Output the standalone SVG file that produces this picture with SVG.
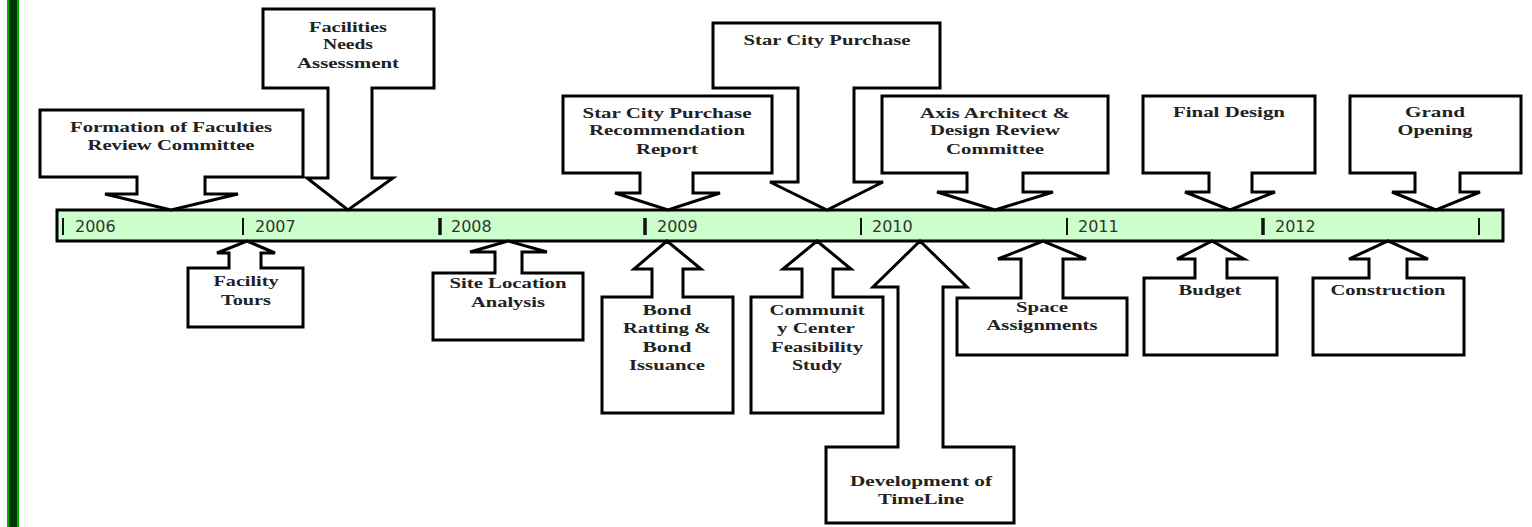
<svg xmlns="http://www.w3.org/2000/svg" width="1532" height="527" viewBox="0 0 1532 527">
<style>
.c{fill:#fff;stroke:#000;stroke-width:3;stroke-linejoin:miter}
.t{font-family:"Liberation Serif","Times New Roman",serif;font-weight:bold;font-size:14px;fill:#222;text-anchor:middle}
.y{font-family:"DejaVu Sans",Verdana,sans-serif;font-size:16px;fill:#333}
.tk{stroke:#111;stroke-width:2}
.tkb{stroke:#111;stroke-width:3.5}
</style>
<rect width="1532" height="527" fill="#fff"/>
<g id="sidebar">
<rect x="7" y="0" width="12" height="527" fill="#00b000"/>
<rect x="9" y="0" width="8" height="527" fill="#003800"/>
</g>
<g id="timeline">
<rect x="57" y="210" width="1446" height="31" fill="#ccffcc" stroke="#000" stroke-width="3"/>
<line class="tk" x1="63" y1="218" x2="63" y2="235"/><text class="y" x="75" y="232">2006</text>
<line class="tk" x1="243" y1="218" x2="243" y2="235"/><text class="y" x="255" y="232">2007</text>
<line class="tkb" x1="440" y1="218" x2="440" y2="235"/><text class="y" x="451" y="232">2008</text>
<line class="tkb" x1="645" y1="218" x2="645" y2="235"/><text class="y" x="657" y="232">2009</text>
<line class="tk" x1="861" y1="218" x2="861" y2="235"/><text class="y" x="872" y="232">2010</text>
<line class="tk" x1="1067" y1="218" x2="1067" y2="235"/><text class="y" x="1078" y="232">2011</text>
<line class="tkb" x1="1263" y1="218" x2="1263" y2="235"/><text class="y" x="1275" y="232">2012</text>
<line class="tk" x1="1479" y1="218" x2="1479" y2="235"/>
</g>
<g id="connectors"></g>
<g id="formation">
<path class="c" d="M40 110H303V177H205V194H238L171 210L105 194H137V177H40Z"/>
<text class="t" x="171" y="132" textLength="202" lengthAdjust="spacingAndGlyphs">Formation of Faculties</text>
<text class="t" x="171" y="150" textLength="167" lengthAdjust="spacingAndGlyphs">Review Committee</text>
</g>
<g id="needs">
<path class="c" d="M263 9H434V88H372V178H393L348 210L307 178H328V88H263Z"/>
<text class="t" x="348" y="32" textLength="78" lengthAdjust="spacingAndGlyphs">Facilities</text>
<text class="t" x="348" y="49" textLength="50" lengthAdjust="spacingAndGlyphs">Needs</text>
<text class="t" x="348" y="68" textLength="102" lengthAdjust="spacingAndGlyphs">Assessment</text>
</g>
<g id="screport">
<path class="c" d="M563 96H772V173H693V193H720L668 210L615 193H640V173H563Z"/>
<text class="t" x="667" y="118" textLength="169" lengthAdjust="spacingAndGlyphs">Star City Purchase</text>
<text class="t" x="667" y="135" textLength="156" lengthAdjust="spacingAndGlyphs">Recommendation</text>
<text class="t" x="667" y="154" textLength="62" lengthAdjust="spacingAndGlyphs">Report</text>
</g>
<g id="scpurchase">
<path class="c" d="M713 23H940V88H854V182H883L827 210L770 182H798V88H713Z"/>
<text class="t" x="827" y="45" textLength="167" lengthAdjust="spacingAndGlyphs">Star City Purchase</text>
</g>
<g id="axis">
<path class="c" d="M882 96H1108V173H1023V192H1053L995 210L937 192H967V173H882Z"/>
<text class="t" x="995" y="118" textLength="150" lengthAdjust="spacingAndGlyphs">Axis Architect &amp;</text>
<text class="t" x="995" y="135" textLength="130" lengthAdjust="spacingAndGlyphs">Design Review</text>
<text class="t" x="995" y="154" textLength="98" lengthAdjust="spacingAndGlyphs">Committee</text>
</g>
<g id="finaldesign">
<path class="c" d="M1143 96H1315V173H1252V192H1275L1230 210L1185 192H1209V173H1143Z"/>
<text class="t" x="1229" y="117" textLength="112" lengthAdjust="spacingAndGlyphs">Final Design</text>
</g>
<g id="grandopening">
<path class="c" d="M1350 96H1521V173H1460V192H1480L1436 210L1392 192H1415V173H1350Z"/>
<text class="t" x="1435" y="117" textLength="60" lengthAdjust="spacingAndGlyphs">Grand</text>
<text class="t" x="1435" y="135" textLength="75" lengthAdjust="spacingAndGlyphs">Opening</text>
</g>
<g id="tours">
<path class="c" d="M188 268H229V253H217L247 241L275 253H261V268H303V327H188Z"/>
<text class="t" x="246" y="286" textLength="65" lengthAdjust="spacingAndGlyphs">Facility</text>
<text class="t" x="246" y="305" textLength="50" lengthAdjust="spacingAndGlyphs">Tours</text>
</g>
<g id="site">
<path class="c" d="M433 273H495V252H470L508 241L547 252H522V273H583V340H433Z"/>
<text class="t" x="508" y="288" textLength="117" lengthAdjust="spacingAndGlyphs">Site Location</text>
<text class="t" x="508" y="307" textLength="74" lengthAdjust="spacingAndGlyphs">Analysis</text>
</g>
<g id="bond">
<path class="c" d="M602 297H652V269H634L667 241L701 269H683V297H733V413H602Z"/>
<text class="t" x="667" y="315" textLength="49" lengthAdjust="spacingAndGlyphs">Bond</text>
<text class="t" x="667" y="333" textLength="88" lengthAdjust="spacingAndGlyphs">Ratting &amp;</text>
<text class="t" x="667" y="352" textLength="49" lengthAdjust="spacingAndGlyphs">Bond</text>
<text class="t" x="667" y="370" textLength="76" lengthAdjust="spacingAndGlyphs">Issuance</text>
</g>
<g id="community">
<path class="c" d="M751 297H802V269H783L817 241L851 269H833V297H883V413H751Z"/>
<text class="t" x="817" y="315" textLength="95" lengthAdjust="spacingAndGlyphs">Communit</text>
<text class="t" x="816" y="333" textLength="78" lengthAdjust="spacingAndGlyphs">y Center</text>
<text class="t" x="817" y="352" textLength="92" lengthAdjust="spacingAndGlyphs">Feasibility</text>
<text class="t" x="817" y="370" textLength="50" lengthAdjust="spacingAndGlyphs">Study</text>
</g>
<g id="development">
<path class="c" d="M826 447H898V287H873L920 241L967 287H943V447H1014V523H826Z"/>
<text class="t" x="921" y="486" textLength="142" lengthAdjust="spacingAndGlyphs">Development of</text>
<text class="t" x="921" y="504" textLength="86" lengthAdjust="spacingAndGlyphs">TimeLine</text>
</g>
<g id="space">
<path class="c" d="M957 298H1021V259H998L1043 241L1086 259H1063V298H1127V355H957Z"/>
<text class="t" x="1042" y="312" textLength="52" lengthAdjust="spacingAndGlyphs">Space</text>
<text class="t" x="1042" y="330" textLength="111" lengthAdjust="spacingAndGlyphs">Assignments</text>
</g>
<g id="budget">
<path class="c" d="M1144 278H1195V259H1177L1212 241L1244 259H1227V278H1277V355H1144Z"/>
<text class="t" x="1210" y="295" textLength="63" lengthAdjust="spacingAndGlyphs">Budget</text>
</g>
<g id="construction">
<path class="c" d="M1313 278H1369V259H1349L1388 241L1428 259H1407V278H1464V355H1313Z"/>
<text class="t" x="1388" y="295" textLength="115" lengthAdjust="spacingAndGlyphs">Construction</text>
</g>
</svg>
